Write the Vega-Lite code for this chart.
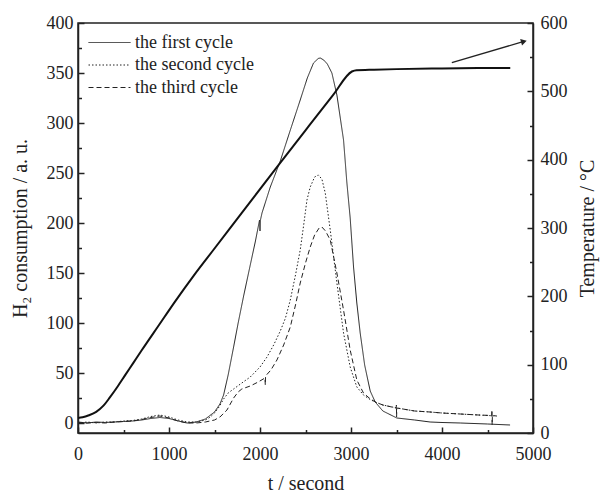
{
  "$schema": "https://vega.github.io/schema/vega-lite/v6.json",
  "width": 455,
  "height": 410,
  "autosize": {"type": "none"},
  "padding": {"left": 78, "top": 23, "right": 67, "bottom": 61},
  "background": "white",
  "config": {
    "font": "Liberation Serif",
    "view": {"stroke": "#222", "strokeWidth": 1.5},
    "axis": {
      "grid": false,
      "domainColor": "#222",
      "domainWidth": 1.5,
      "tickColor": "#222",
      "tickWidth": 1.5,
      "labelFont": "Liberation Serif",
      "titleFont": "Liberation Serif",
      "labelColor": "#222",
      "titleColor": "#222",
      "labelFontSize": 18,
      "titleFontSize": 20,
      "titleFontWeight": "normal",
      "labelOverlap": false,
      "labelFlush": false,
      "format": "d"
    },
    "legend": {
      "labelFont": "Liberation Serif",
      "labelFontSize": 18,
      "labelColor": "#222",
      "padding": 0
    }
  },
  "datasets": {
    "tpr": [
      {"c": "the first cycle", "t": 0, "v": 1}, {"c": "the first cycle", "t": 100, "v": 0}, {"c": "the first cycle", "t": 200, "v": 1},
      {"c": "the first cycle", "t": 300, "v": 0.5}, {"c": "the first cycle", "t": 400, "v": 1}, {"c": "the first cycle", "t": 500, "v": 1.5},
      {"c": "the first cycle", "t": 600, "v": 2}, {"c": "the first cycle", "t": 700, "v": 3}, {"c": "the first cycle", "t": 800, "v": 4.5},
      {"c": "the first cycle", "t": 900, "v": 5.5}, {"c": "the first cycle", "t": 1000, "v": 4.5}, {"c": "the first cycle", "t": 1100, "v": 2},
      {"c": "the first cycle", "t": 1200, "v": 0}, {"c": "the first cycle", "t": 1300, "v": 1}, {"c": "the first cycle", "t": 1400, "v": 4},
      {"c": "the first cycle", "t": 1500, "v": 11}, {"c": "the first cycle", "t": 1560, "v": 19}, {"c": "the first cycle", "t": 1600, "v": 28},
      {"c": "the first cycle", "t": 1650, "v": 48}, {"c": "the first cycle", "t": 1710, "v": 76}, {"c": "the first cycle", "t": 1760, "v": 100},
      {"c": "the first cycle", "t": 1820, "v": 127}, {"c": "the first cycle", "t": 1893, "v": 158}, {"c": "the first cycle", "t": 1950, "v": 182},
      {"c": "the first cycle", "t": 1995, "v": 203}, {"c": "the first cycle", "t": 2000, "v": 192}, {"c": "the first cycle", "t": 2005, "v": 203},
      {"c": "the first cycle", "t": 2022, "v": 210}, {"c": "the first cycle", "t": 2113, "v": 236}, {"c": "the first cycle", "t": 2223, "v": 262},
      {"c": "the first cycle", "t": 2330, "v": 292}, {"c": "the first cycle", "t": 2442, "v": 323}, {"c": "the first cycle", "t": 2520, "v": 345},
      {"c": "the first cycle", "t": 2588, "v": 360}, {"c": "the first cycle", "t": 2640, "v": 364.5}, {"c": "the first cycle", "t": 2662, "v": 365},
      {"c": "the first cycle", "t": 2700, "v": 363}, {"c": "the first cycle", "t": 2740, "v": 359},
      {"c": "the first cycle", "t": 2790, "v": 350}, {"c": "the first cycle", "t": 2845, "v": 328}, {"c": "the first cycle", "t": 2918, "v": 283},
      {"c": "the first cycle", "t": 2955, "v": 240}, {"c": "the first cycle", "t": 2991, "v": 205}, {"c": "the first cycle", "t": 3028, "v": 156},
      {"c": "the first cycle", "t": 3064, "v": 120}, {"c": "the first cycle", "t": 3101, "v": 90}, {"c": "the first cycle", "t": 3150, "v": 58},
      {"c": "the first cycle", "t": 3211, "v": 32}, {"c": "the first cycle", "t": 3266, "v": 21}, {"c": "the first cycle", "t": 3350, "v": 12},
      {"c": "the first cycle", "t": 3504, "v": 5}, {"c": "the first cycle", "t": 3700, "v": 3}, {"c": "the first cycle", "t": 3869, "v": 1},
      {"c": "the first cycle", "t": 4000, "v": 0.5}, {"c": "the first cycle", "t": 4200, "v": 0}, {"c": "the first cycle", "t": 4500, "v": -1},
      {"c": "the first cycle", "t": 4748, "v": -2},

      {"c": "the second cycle", "t": 0, "v": 0}, {"c": "the second cycle", "t": 100, "v": 1}, {"c": "the second cycle", "t": 200, "v": 0},
      {"c": "the second cycle", "t": 300, "v": 1}, {"c": "the second cycle", "t": 400, "v": 1}, {"c": "the second cycle", "t": 500, "v": 2},
      {"c": "the second cycle", "t": 600, "v": 2.5}, {"c": "the second cycle", "t": 700, "v": 4}, {"c": "the second cycle", "t": 800, "v": 6.5},
      {"c": "the second cycle", "t": 900, "v": 8}, {"c": "the second cycle", "t": 1000, "v": 6}, {"c": "the second cycle", "t": 1100, "v": 3},
      {"c": "the second cycle", "t": 1200, "v": 1}, {"c": "the second cycle", "t": 1300, "v": 1}, {"c": "the second cycle", "t": 1400, "v": 3},
      {"c": "the second cycle", "t": 1454, "v": 6}, {"c": "the second cycle", "t": 1500, "v": 10}, {"c": "the second cycle", "t": 1550, "v": 16},
      {"c": "the second cycle", "t": 1600, "v": 24}, {"c": "the second cycle", "t": 1650, "v": 30}, {"c": "the second cycle", "t": 1710, "v": 34},
      {"c": "the second cycle", "t": 1800, "v": 40}, {"c": "the second cycle", "t": 1893, "v": 46}, {"c": "the second cycle", "t": 2000, "v": 56},
      {"c": "the second cycle", "t": 2077, "v": 66}, {"c": "the second cycle", "t": 2150, "v": 78}, {"c": "the second cycle", "t": 2223, "v": 92},
      {"c": "the second cycle", "t": 2280, "v": 105}, {"c": "the second cycle", "t": 2333, "v": 123}, {"c": "the second cycle", "t": 2390, "v": 148},
      {"c": "the second cycle", "t": 2442, "v": 173}, {"c": "the second cycle", "t": 2480, "v": 198}, {"c": "the second cycle", "t": 2516, "v": 223},
      {"c": "the second cycle", "t": 2552, "v": 236}, {"c": "the second cycle", "t": 2600, "v": 246}, {"c": "the second cycle", "t": 2640, "v": 248},
      {"c": "the second cycle", "t": 2680, "v": 244}, {"c": "the second cycle", "t": 2717, "v": 230}, {"c": "the second cycle", "t": 2772, "v": 193},
      {"c": "the second cycle", "t": 2845, "v": 140}, {"c": "the second cycle", "t": 2918, "v": 90}, {"c": "the second cycle", "t": 2991, "v": 56},
      {"c": "the second cycle", "t": 3064, "v": 36}, {"c": "the second cycle", "t": 3137, "v": 28}, {"c": "the second cycle", "t": 3200, "v": 24},
      {"c": "the second cycle", "t": 3266, "v": 21}, {"c": "the second cycle", "t": 3350, "v": 18}, {"c": "the second cycle", "t": 3504, "v": 15},
      {"c": "the second cycle", "t": 3700, "v": 12}, {"c": "the second cycle", "t": 3869, "v": 11}, {"c": "the second cycle", "t": 4000, "v": 10},
      {"c": "the second cycle", "t": 4200, "v": 9}, {"c": "the second cycle", "t": 4400, "v": 8}, {"c": "the second cycle", "t": 4601, "v": 7},

      {"c": "the third cycle", "t": 0, "v": 0.5}, {"c": "the third cycle", "t": 100, "v": 0}, {"c": "the third cycle", "t": 200, "v": 0.5},
      {"c": "the third cycle", "t": 300, "v": 0}, {"c": "the third cycle", "t": 400, "v": 1}, {"c": "the third cycle", "t": 500, "v": 1.5},
      {"c": "the third cycle", "t": 600, "v": 2}, {"c": "the third cycle", "t": 700, "v": 3.5}, {"c": "the third cycle", "t": 800, "v": 5.5},
      {"c": "the third cycle", "t": 900, "v": 7}, {"c": "the third cycle", "t": 1000, "v": 5}, {"c": "the third cycle", "t": 1100, "v": 2},
      {"c": "the third cycle", "t": 1200, "v": 0}, {"c": "the third cycle", "t": 1300, "v": 0}, {"c": "the third cycle", "t": 1400, "v": 1},
      {"c": "the third cycle", "t": 1500, "v": 3}, {"c": "the third cycle", "t": 1560, "v": 6}, {"c": "the third cycle", "t": 1637, "v": 13},
      {"c": "the third cycle", "t": 1710, "v": 25}, {"c": "the third cycle", "t": 1760, "v": 31}, {"c": "the third cycle", "t": 1800, "v": 34},
      {"c": "the third cycle", "t": 1893, "v": 37}, {"c": "the third cycle", "t": 1980, "v": 41}, {"c": "the third cycle", "t": 2055, "v": 45},
      {"c": "the third cycle", "t": 2058, "v": 38}, {"c": "the third cycle", "t": 2061, "v": 47}, {"c": "the third cycle", "t": 2120, "v": 53},
      {"c": "the third cycle", "t": 2186, "v": 63}, {"c": "the third cycle", "t": 2260, "v": 78}, {"c": "the third cycle", "t": 2333, "v": 96},
      {"c": "the third cycle", "t": 2390, "v": 118}, {"c": "the third cycle", "t": 2442, "v": 140}, {"c": "the third cycle", "t": 2500, "v": 160},
      {"c": "the third cycle", "t": 2552, "v": 176}, {"c": "the third cycle", "t": 2600, "v": 188}, {"c": "the third cycle", "t": 2650, "v": 195},
      {"c": "the third cycle", "t": 2680, "v": 196}, {"c": "the third cycle", "t": 2720, "v": 192}, {"c": "the third cycle", "t": 2772, "v": 183},
      {"c": "the third cycle", "t": 2845, "v": 150}, {"c": "the third cycle", "t": 2918, "v": 113}, {"c": "the third cycle", "t": 2991, "v": 73},
      {"c": "the third cycle", "t": 3064, "v": 43}, {"c": "the third cycle", "t": 3137, "v": 30}, {"c": "the third cycle", "t": 3200, "v": 25},
      {"c": "the third cycle", "t": 3266, "v": 21}, {"c": "the third cycle", "t": 3350, "v": 18}, {"c": "the third cycle", "t": 3496, "v": 15},
      {"c": "the third cycle", "t": 3499, "v": 18}, {"c": "the third cycle", "t": 3501, "v": 6}, {"c": "the third cycle", "t": 3504, "v": 15},
      {"c": "the third cycle", "t": 3700, "v": 12}, {"c": "the third cycle", "t": 3869, "v": 11}, {"c": "the third cycle", "t": 4000, "v": 10},
      {"c": "the third cycle", "t": 4200, "v": 9}, {"c": "the third cycle", "t": 4400, "v": 8}, {"c": "the third cycle", "t": 4546, "v": 7.5},
      {"c": "the third cycle", "t": 4549, "v": 13}, {"c": "the third cycle", "t": 4551, "v": -2}, {"c": "the third cycle", "t": 4554, "v": 7.5},
      {"c": "the third cycle", "t": 4601, "v": 7}
    ],
    "temp": [
      {"t": 0, "T": 22}, {"t": 50, "T": 23}, {"t": 120, "T": 26}, {"t": 200, "T": 31}, {"t": 280, "T": 40},
      {"t": 350, "T": 52}, {"t": 430, "T": 67}, {"t": 520, "T": 85}, {"t": 610, "T": 103}, {"t": 700, "T": 121},
      {"t": 890, "T": 158}, {"t": 1070, "T": 193}, {"t": 1270, "T": 230}, {"t": 1500, "T": 270}, {"t": 1800, "T": 322},
      {"t": 2110, "T": 376}, {"t": 2220, "T": 395}, {"t": 2500, "T": 443}, {"t": 2800, "T": 494}, {"t": 3010, "T": 529},
      {"t": 3060, "T": 531}, {"t": 3200, "T": 531.5}, {"t": 3500, "T": 532.5}, {"t": 4000, "T": 533.5}, {"t": 4500, "T": 534},
      {"t": 4750, "T": 534}
    ],
    "arrow": [
      {"t": 4108, "T": 542},
      {"t": 4900, "T": 573}
    ],
    "arrowhead": [
      {"t": 4900, "T": 573}
    ]
  },
  "layer": [
    {
      "data": {"name": "tpr"},
      "mark": {"type": "line", "strokeWidth": 1, "color": "#222"},
      "encoding": {
        "x": {
          "field": "t", "type": "quantitative",
          "scale": {"domain": [0, 5000], "nice": false},
          "axis": {
            "orient": "bottom", "values": [0, 1000, 2000, 3000, 4000, 5000],
            "tickSize": -6, "labelPadding": 18, "format": "d",
            "title": "t / second", "titleX": 227.5, "titleY": 56,
            "titleBaseline": "alphabetic", "titleAlign": "center"
          }
        },
        "y": {
          "field": "v", "type": "quantitative",
          "scale": {"domain": [-10, 400], "nice": false, "zero": false},
          "axis": {
            "orient": "left", "values": [0, 50, 100, 150, 200, 250, 300, 350, 400],
            "tickSize": -6, "labelPadding": 11, "format": "d",
            "title": "H₂ consumption / a. u.", "titleX": -58, "titleY": 205,
            "titleAngle": -90, "titleBaseline": "middle", "titleAlign": "center"
          }
        },
        "strokeDash": {
          "field": "c", "type": "nominal",
          "scale": {
            "domain": ["the first cycle", "the second cycle", "the third cycle"],
            "range": [[1, 0], [1.5, 2], [5, 3]]
          },
          "legend": {
            "orient": "none", "legendX": 20.5, "legendY": 8.5, "title": null,
            "symbolType": "M-2,0H2", "symbolSize": 441, "symbolStrokeWidth": 1,
            "symbolStrokeColor": "#222", "symbolFillColor": "transparent",
            "labelOffset": 14.5, "rowPadding": 2.5,
            "labelLimit": 300, "padding": 0
          }
        }
      }
    },
    {
      "data": {"name": "tpr"},
      "mark": {"type": "line", "opacity": 0},
      "encoding": {
        "x": {
          "field": "t", "type": "quantitative",
          "axis": {
            "orient": "bottom", "values": [500, 1500, 2500, 3500, 4500],
            "tickSize": -3.5, "labels": false, "domain": false, "title": null
          }
        },
        "y": {
          "field": "v", "type": "quantitative",
          "scale": {"domain": [-10, 400], "nice": false, "zero": false},
          "axis": {
            "orient": "left", "values": [25, 75, 125, 175, 225, 275, 325, 375],
            "tickSize": -3.5, "labels": false, "domain": false, "title": null
          }
        }
      }
    },
    {
      "data": {"name": "temp"},
      "mark": {"type": "line", "strokeWidth": 2, "color": "#111", "interpolate": "monotone"},
      "encoding": {
        "x": {"field": "t", "type": "quantitative", "axis": null},
        "y": {
          "field": "T", "type": "quantitative",
          "scale": {"domain": [0, 600], "nice": false},
          "axis": {
            "orient": "right", "values": [0, 100, 200, 300, 400, 500, 600],
            "tickSize": -6, "labelPadding": 13, "format": "d",
            "title": "Temperature / °C", "titleX": 54, "titleY": 205,
            "titleAngle": -90, "titleBaseline": "middle", "titleAlign": "center"
          }
        }
      }
    },
    {
      "data": {"name": "temp"},
      "mark": {"type": "line", "opacity": 0},
      "encoding": {
        "x": {"field": "t", "type": "quantitative", "axis": null},
        "y": {
          "field": "T", "type": "quantitative",
          "scale": {"domain": [0, 600], "nice": false},
          "axis": {
            "orient": "right", "values": [50, 150, 250, 350, 450, 550],
            "tickSize": -3.5, "labels": false, "domain": false, "title": null
          }
        }
      }
    },
    {
      "data": {"name": "arrow"},
      "mark": {"type": "line", "strokeWidth": 1.3, "color": "#222"},
      "encoding": {
        "x": {"field": "t", "type": "quantitative", "axis": null},
        "y": {
          "field": "T", "type": "quantitative",
          "scale": {"domain": [0, 600], "nice": false}, "axis": null
        }
      }
    },
    {
      "data": {"name": "arrowhead"},
      "mark": {"type": "point", "shape": "triangle-right", "filled": true, "size": 45, "angle": 344, "color": "#222", "opacity": 1},
      "encoding": {
        "x": {"field": "t", "type": "quantitative", "axis": null},
        "y": {
          "field": "T", "type": "quantitative",
          "scale": {"domain": [0, 600], "nice": false}, "axis": null
        }
      }
    }
  ],
  "resolve": {
    "scale": {"y": "independent"},
    "axis": {"x": "independent", "y": "independent"}
  }
}
